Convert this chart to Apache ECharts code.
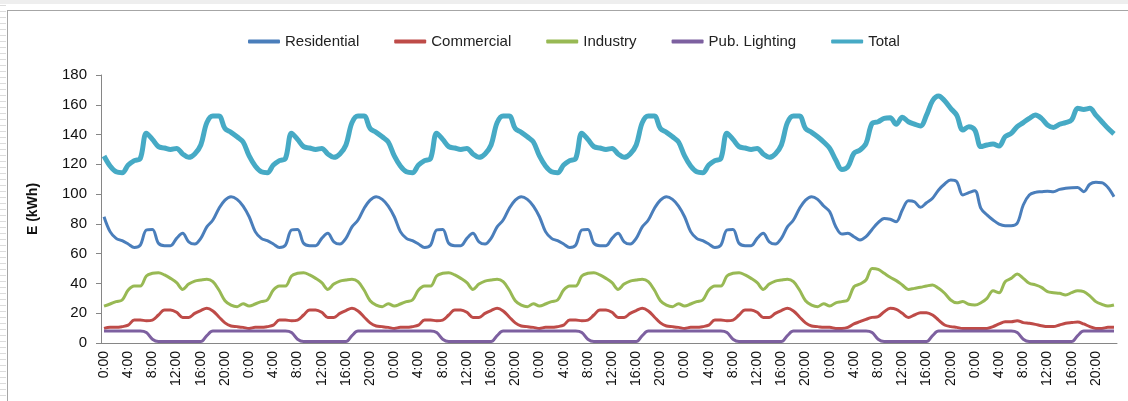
<!DOCTYPE html>
<html>
<head>
<meta charset="utf-8">
<script src="https://cdn.jsdelivr.net/npm/echarts@6/dist/echarts.min.js"></script>
<style>
  html, body { margin: 0; padding: 0; background: #fff; }
  #strip { position: absolute; left: 0; top: 0; width: 6px; height: 401px;
    background: repeating-linear-gradient(#fff 0 5px, #dcdcdc 5px 6px); }
  #topstrip { position: absolute; left: 0; top: 0; width: 1128px; height: 4px; background: #eeeeee; }
  #frame { position: absolute; left: 7px; top: 10px; width: 1130px; height: 400px; border: 1px solid #a6a6a6; }
  #chart { position: absolute; left: 0; top: 0; width: 1128px; height: 401px; }
</style>
</head>
<body>
<div id="strip"></div>
<div id="topstrip"></div>
<div id="frame"></div>
<div id="chart"></div>
<script>
// hour labels of one day, the x axis runs over 7 days
const hours = ['0:00', '1:00', '2:00', '3:00', '4:00', '5:00', '6:00', '7:00', '8:00', '9:00', '10:00', '11:00',
  '12:00', '13:00', '14:00', '15:00', '16:00', '17:00', '18:00', '19:00', '20:00', '21:00', '22:00', '23:00']
const dayCount = 7
const yTicks = { min: 0, max: 180, interval: 20 }

const residential = [
  84.8, 74.8, 70.3, 68.7, 66.5, 64.2, 65.8, 75.9, 76.3, 67.0, 65.4, 65.4, 70.3, 73.7, 68.0, 66.5, 70.3, 78.0, 82.6, 90.4, 96.0, 98.3, 96.5, 92.0,
  84.8, 74.8, 70.3, 68.7, 66.5, 64.2, 65.8, 75.9, 76.3, 67.0, 65.4, 65.4, 70.3, 73.7, 68.0, 66.5, 70.3, 78.0, 82.6, 90.4, 96.0, 98.3, 96.5, 92.0,
  84.8, 74.8, 70.3, 68.7, 66.5, 64.2, 65.8, 75.9, 76.3, 67.0, 65.4, 65.4, 70.3, 73.7, 68.0, 66.5, 70.3, 78.0, 82.6, 90.4, 96.0, 98.3, 96.5, 92.0,
  84.8, 74.8, 70.3, 68.7, 66.5, 64.2, 65.8, 75.9, 76.3, 67.0, 65.4, 65.4, 70.3, 73.7, 68.0, 66.5, 70.3, 78.0, 82.6, 90.4, 96.0, 98.3, 96.5, 92.0,
  84.8, 74.8, 70.3, 68.7, 66.5, 64.2, 65.8, 75.9, 76.3, 67.0, 65.4, 65.4, 70.3, 73.7, 68.0, 66.5, 70.3, 78.0, 82.6, 90.4, 96.0, 98.3, 96.5, 92.0,
  88.2, 78.1, 73.2, 73.7, 71.4, 69.2, 71.4, 76.3, 80.8, 83.7, 83.1, 81.5, 89.3, 95.6, 94.9, 91.1, 94.2, 97.2, 102.8, 106.8, 109.5, 108.4, 99.4, 101.0,
  102.3, 90.4, 86.0, 82.6, 79.9, 78.8, 78.8, 80.4, 92.7, 99.4, 101.2, 101.6, 102.0, 101.6, 103.2, 103.9, 104.3, 104.5, 101.6, 106.6, 107.9, 107.7, 104.5, 98.3
]
const commercial = [
  9.8, 10.5, 10.5, 11.0, 12.0, 15.4, 15.4, 15.0, 15.4, 18.8, 22.2, 22.2, 20.6, 17.2, 17.2, 19.9, 21.8, 23.3, 21.5, 17.5, 13.5, 11.4, 11.0, 10.5,
  9.8, 10.5, 10.5, 11.0, 12.0, 15.4, 15.4, 15.0, 15.4, 18.8, 22.2, 22.2, 20.6, 17.2, 17.2, 19.9, 21.8, 23.3, 21.5, 17.5, 13.5, 11.4, 11.0, 10.5,
  9.8, 10.5, 10.5, 11.0, 12.0, 15.4, 15.4, 15.0, 15.4, 18.8, 22.2, 22.2, 20.6, 17.2, 17.2, 19.9, 21.8, 23.3, 21.5, 17.5, 13.5, 11.4, 11.0, 10.5,
  9.8, 10.5, 10.5, 11.0, 12.0, 15.4, 15.4, 15.0, 15.4, 18.8, 22.2, 22.2, 20.6, 17.2, 17.2, 19.9, 21.8, 23.3, 21.5, 17.5, 13.5, 11.4, 11.0, 10.5,
  9.8, 10.5, 10.5, 11.0, 12.0, 15.4, 15.4, 15.0, 15.4, 18.8, 22.2, 22.2, 20.6, 17.2, 17.2, 19.9, 21.8, 23.3, 21.5, 17.5, 13.5, 11.4, 11.0, 10.5,
  10.5, 9.8, 9.8, 10.5, 12.8, 14.3, 15.9, 17.2, 17.7, 21.0, 23.3, 22.6, 19.9, 17.2, 18.8, 20.4, 20.4, 18.8, 15.4, 12.1, 11.0, 10.5, 9.8, 9.8,
  9.8, 9.8, 9.8, 11.0, 12.8, 14.3, 14.3, 15.0, 13.7, 13.2, 12.5, 11.6, 11.0, 11.0, 12.1, 13.2, 13.7, 14.1, 12.8, 11.0, 9.8, 9.8, 10.5, 10.5
]
const industry = [
  24.8, 26.2, 27.8, 28.9, 35.6, 38.3, 38.3, 45.0, 46.8, 47.2, 45.7, 43.4, 40.5, 36.0, 39.6, 41.6, 42.3, 42.8, 41.2, 35.6, 28.4, 25.5, 24.4, 26.4,
  24.8, 26.2, 27.8, 28.9, 35.6, 38.3, 38.3, 45.0, 46.8, 47.2, 45.7, 43.4, 40.5, 36.0, 39.6, 41.6, 42.3, 42.8, 41.2, 35.6, 28.4, 25.5, 24.4, 26.4,
  24.8, 26.2, 27.8, 28.9, 35.6, 38.3, 38.3, 45.0, 46.8, 47.2, 45.7, 43.4, 40.5, 36.0, 39.6, 41.6, 42.3, 42.8, 41.2, 35.6, 28.4, 25.5, 24.4, 26.4,
  24.8, 26.2, 27.8, 28.9, 35.6, 38.3, 38.3, 45.0, 46.8, 47.2, 45.7, 43.4, 40.5, 36.0, 39.6, 41.6, 42.3, 42.8, 41.2, 35.6, 28.4, 25.5, 24.4, 26.4,
  24.8, 26.2, 27.8, 28.9, 35.6, 38.3, 38.3, 45.0, 46.8, 47.2, 45.7, 43.4, 40.5, 36.0, 39.6, 41.6, 42.3, 42.8, 41.2, 35.6, 28.4, 25.5, 24.4, 26.4,
  24.8, 27.0, 27.8, 28.9, 37.8, 39.6, 42.3, 50.1, 49.5, 46.8, 44.1, 41.9, 39.0, 36.0, 36.7, 37.4, 38.3, 39.0, 36.7, 33.4, 28.9, 27.0, 27.8, 26.0,
  25.5, 27.0, 30.0, 35.1, 33.8, 41.2, 43.4, 46.3, 43.4, 40.1, 39.0, 37.4, 34.5, 33.8, 33.4, 32.2, 33.8, 35.1, 34.5, 31.7, 27.8, 26.0, 24.8, 25.5
]
const pubLighting = [
  8, 8, 8, 8, 8, 8, 8, 7, 2.5, 1, 1, 1, 1, 1, 1, 1, 1, 5, 8, 8, 8, 8, 8, 8,
  8, 8, 8, 8, 8, 8, 8, 7, 2.5, 1, 1, 1, 1, 1, 1, 1, 1, 5, 8, 8, 8, 8, 8, 8,
  8, 8, 8, 8, 8, 8, 8, 7, 2.5, 1, 1, 1, 1, 1, 1, 1, 1, 5, 8, 8, 8, 8, 8, 8,
  8, 8, 8, 8, 8, 8, 8, 7, 2.5, 1, 1, 1, 1, 1, 1, 1, 1, 5, 8, 8, 8, 8, 8, 8,
  8, 8, 8, 8, 8, 8, 8, 7, 2.5, 1, 1, 1, 1, 1, 1, 1, 1, 5, 8, 8, 8, 8, 8, 8,
  8, 8, 8, 8, 8, 8, 8, 7, 2.5, 1, 1, 1, 1, 1, 1, 1, 1, 5, 8, 8, 8, 8, 8, 8,
  8, 8, 8, 8, 8, 8, 8, 7, 2.5, 1, 1, 1, 1, 1, 1, 1, 1, 5, 8, 8, 8, 8, 8, 8
]
const total = [
  125.6, 118.9, 115.0, 114.4, 119.5, 122.5, 124.0, 140.8, 136.8, 131.9, 131.0, 130.0, 130.7, 127.0, 124.7, 127.0, 133.0, 148.0, 152.5, 152.5, 144.0, 141.5, 138.5, 135.0,
  125.6, 118.9, 115.0, 114.4, 119.5, 122.5, 124.0, 140.8, 136.8, 131.9, 131.0, 130.0, 130.7, 127.0, 124.7, 127.0, 133.0, 148.0, 152.5, 152.5, 144.0, 141.5, 138.5, 135.0,
  125.6, 118.9, 115.0, 114.4, 119.5, 122.5, 124.0, 140.8, 136.8, 131.9, 131.0, 130.0, 130.7, 127.0, 124.7, 127.0, 133.0, 148.0, 152.5, 152.5, 144.0, 141.5, 138.5, 135.0,
  125.6, 118.9, 115.0, 114.4, 119.5, 122.5, 124.0, 140.8, 136.8, 131.9, 131.0, 130.0, 130.7, 127.0, 124.7, 127.0, 133.0, 148.0, 152.5, 152.5, 144.0, 141.5, 138.5, 135.0,
  125.6, 118.9, 115.0, 114.4, 119.5, 122.5, 124.0, 140.8, 136.8, 131.9, 131.0, 130.0, 130.7, 127.0, 124.7, 127.0, 133.0, 148.0, 152.5, 152.5, 144.0, 141.5, 138.5, 135.0,
  130.7, 122.9, 116.6, 118.4, 127.4, 129.6, 134.0, 147.5, 148.6, 150.9, 151.3, 146.9, 151.6, 148.6, 147.0, 145.7, 153.0, 162.7, 165.9, 162.7, 157.6, 153.0, 143.0, 145.3,
  143.0, 131.9, 133.0, 133.6, 132.3, 138.6, 140.8, 145.3, 148.0, 150.9, 153.1, 150.9, 146.4, 144.8, 146.9, 148.0, 149.8, 157.6, 156.9, 157.6, 153.1, 148.6, 144.2, 140.4
]

const categories = []
for (let d = 0; d < dayCount; d++) categories.push(...hours)

const font = 'Liberation Sans, Arial, sans-serif'
const line = (name, data, color, width) => ({
  name,
  type: 'line',
  data,
  symbol: 'none',
  smooth: 0.35,
  lineStyle: { color, width },
  itemStyle: { color },
  animation: false,
})

const chart = echarts.init(document.getElementById('chart'))
chart.setOption({
  textStyle: { fontFamily: font },
  legend: {
    left: 243,
    top: 29,
    icon: 'roundRect',
    itemWidth: 32,
    itemHeight: 4,
    itemGap: 35,
    textStyle: { fontSize: 15, color: '#222', fontFamily: font },
  },
  grid: { left: 101, right: 11, top: 75, bottom: 58 },
  xAxis: {
    type: 'category',
    data: categories,
    boundaryGap: true,
    axisLine: { lineStyle: { color: '#868686', width: 1 } },
    axisTick: { interval: 0, length: 5, lineStyle: { color: '#868686' } },
    axisLabel: { interval: 3, rotate: 90, margin: 8, fontSize: 14, color: '#111', fontFamily: font },
  },
  yAxis: {
    type: 'value',
    min: yTicks.min,
    max: yTicks.max,
    interval: yTicks.interval,
    name: 'E (kWh)',
    nameLocation: 'middle',
    nameRotate: 90,
    nameGap: 61,
    nameTextStyle: { fontSize: 14, fontWeight: 'bold', color: '#111', fontFamily: font },
    splitLine: { show: false },
    axisLine: { show: true, lineStyle: { color: '#868686', width: 1 } },
    axisTick: { show: true, length: 5, lineStyle: { color: '#868686' } },
    axisLabel: { margin: 14, fontSize: 15, color: '#111', fontFamily: font },
  },
  series: [
    line('Residential', residential, '#4a7ebb', 3),
    line('Commercial', commercial, '#be4b48', 3),
    line('Industry', industry, '#98b954', 3),
    line('Pub. Lighting', pubLighting, '#7d60a0', 3),
    line('Total', total, '#46aac5', 5),
  ],
})
</script>
</body>
</html>
